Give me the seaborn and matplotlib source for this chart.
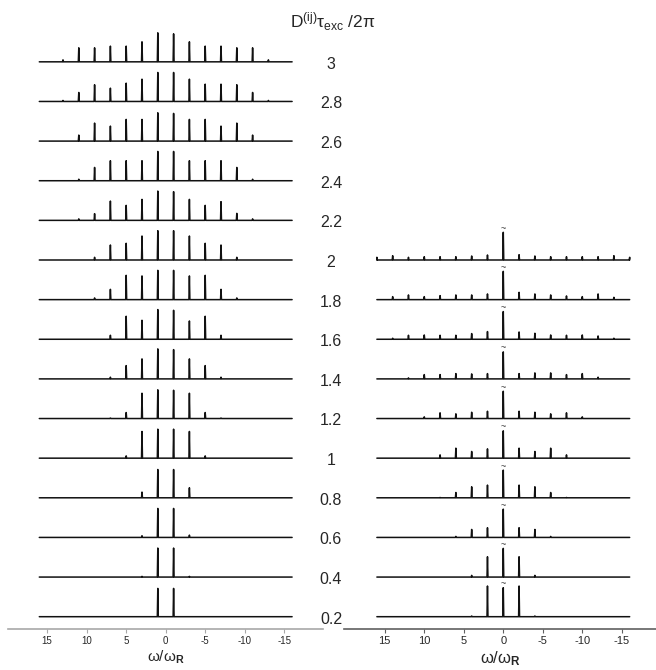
import numpy as np
import pandas as pd
import seaborn as sns
import matplotlib.pyplot as plt
from matplotlib.transforms import blended_transform_factory

# excitation values (one stacked trace each)
left_d = [3.0, 2.8, 2.6, 2.4, 2.2, 2.0, 1.8, 1.6, 1.4, 1.2, 1.0, 0.8, 0.6, 0.4, 0.2]
right_d = [2.0, 1.8, 1.6, 1.4, 1.2, 1.0, 0.8, 0.6, 0.4, 0.2]

# sideband orders (omega / omega_R)
left_orders = [13, 11, 9, 7, 5, 3, 1, -1, -3, -5, -7, -9, -11, -13]
right_orders = [16, 14, 12, 10, 8, 6, 4, 2, 0, -2, -4, -6, -8, -10, -12, -14, -16]

# sideband intensities (a.u., row spacing ~ 40)
left_heights = [
    [2, 14, 14, 15.7, 15.7, 20, 29, 28, 20, 15.7, 15.7, 14, 14, 2],
    [1, 9, 16.7, 13.3, 18.3, 22.3, 29, 29, 22.3, 17.3, 17.3, 16.7, 9, 1],
    [0, 6, 18, 15, 21.7, 21.7, 28.3, 27.7, 21.7, 21.7, 15, 18, 6, 0],
    [0, 1.5, 13.3, 20, 20, 20, 29.3, 29.3, 20, 20, 20, 13.3, 1.5, 0],
    [0, 1.5, 6.7, 19.3, 15, 21, 29.3, 28.7, 21, 15, 18.7, 7, 1.5, 0],
    [0, 0, 2.7, 15, 16.7, 24, 29.3, 29.3, 24, 16.7, 15, 2.7, 0, 0],
    [0, 0, 1.7, 10.3, 24.3, 23.7, 29.3, 29.3, 23.7, 24.3, 10.3, 1.7, 0, 0],
    [0, 0, 0, 4, 23, 19, 29.7, 29, 18.3, 23, 4, 0, 0, 0],
    [0, 0, 0, 1.7, 13.3, 20, 30, 29.3, 20, 13.3, 1.7, 0, 0, 0],
    [0, 0, 0, 0.5, 6, 25.3, 28.7, 28.3, 25.3, 6, 0.5, 0, 0, 0],
    [0, 0, 0, 0, 2.3, 26.7, 29, 29, 26.7, 2.3, 0, 0, 0, 0],
    [0, 0, 0, 0, 0, 5.7, 28.3, 28.3, 10, 0, 0, 0, 0, 0],
    [0, 0, 0, 0, 0, 1.7, 29, 29, 2.3, 0, 0, 0, 0, 0],
    [0, 0, 0, 0, 0, 0.7, 29, 29, 0.7, 0, 0, 0, 0, 0],
    [0, 0, 0, 0, 0, 0, 28.3, 28.3, 0, 0, 0, 0, 0, 0],
]

# centre band is cut off (marked with ~)
right_heights = [
    [2.7, 4.3, 2.7, 3.3, 3.3, 3.3, 4, 5, 27.7, 5.3, 4, 3.3, 3.3, 3.3, 3.3, 4.3, 2.7],
    [0, 3, 4.7, 3, 4, 4.7, 4.7, 5.7, 28.3, 7.3, 5.7, 4.7, 3.7, 3, 5.7, 2.3, 0],
    [0, 1, 4, 4.3, 4, 4, 5.7, 7.7, 27.7, 7.3, 6, 4.3, 4, 4.3, 3.3, 1, 0],
    [0, 0, 1, 4.3, 4.3, 5.3, 5, 5.3, 27, 5.3, 6, 6, 4.3, 5.3, 1.7, 0, 0],
    [0, 0, 0, 1.7, 5.7, 4.7, 6.3, 7.3, 27.3, 7.3, 6.3, 4.7, 5.7, 1.7, 0, 0, 0],
    [0, 0, 0, 0, 3.3, 10, 6.7, 9.3, 27.3, 10, 6.7, 10, 3.3, 0, 0, 0, 0],
    [0, 0, 0, 0, 0.3, 5.3, 11, 12.7, 27.7, 12.7, 11, 5.3, 0.3, 0, 0, 0, 0],
    [0, 0, 0, 0, 0, 1, 8, 9.7, 28.3, 9.7, 8, 1, 0, 0, 0, 0, 0],
    [0, 0, 0, 0, 0, 0, 1.7, 20.3, 28.7, 20.3, 1.7, 0, 0, 0, 0, 0, 0],
    [0, 0, 0, 0, 0, 0, 0.7, 30.7, 29, 30.7, 0.7, 0, 0, 0, 0, 0, 0],
]

x_ticks = [15, 10, 5, 0, -5, -10, -15]

ROW = 39.64      # row spacing in intensity units
HALF_W = 0.06    # half width of a sideband line
X_END = 16


def build_traces(d_values, orders, heights):
    recs = []
    for d, hs in zip(d_values, heights):
        base = round((d - 0.2) / 0.2)
        pts = [(X_END, base)]
        for o, h in zip(orders, hs):
            pts += [(o + HALF_W, base), (o, base + h / ROW), (o - HALF_W, base)]
        pts.append((-X_END, base))
        for x, y in pts:
            recs.append({'D': d, 'x': float(np.clip(x, -X_END, X_END)), 'y': y})
    return pd.DataFrame(recs)


sns.set_style('white')
plt.rcParams['font.family'] = ['Liberation Sans', 'DejaVu Sans']
plt.rcParams['mathtext.fontset'] = 'custom'
plt.rcParams['mathtext.rm'] = 'Liberation Sans'
plt.rcParams['mathtext.it'] = 'Liberation Sans:italic'
plt.rcParams['mathtext.bf'] = 'Liberation Sans:bold'
plt.rcParams['mathtext.default'] = 'regular'
plt.rcParams['axes.unicode_minus'] = False

W, H = 656, 670
fig = plt.figure(figsize=(W / 100, H / 100), dpi=100)

spine_y = 629.3
ylim = (-0.318, 15.56)
ax_l = fig.add_axes([8 / W, (H - spine_y) / H, 315 / W, spine_y / H])
ax_r = fig.add_axes([344 / W, (H - spine_y) / H, 312 / W, spine_y / H])

left_df = build_traces(left_d, left_orders, left_heights)
right_df = build_traces(right_d, right_orders, right_heights)

sns.lineplot(data=left_df, x='x', y='y', units='D', estimator=None, sort=False,
             color='#111111', lw=1.1, ax=ax_l, legend=False)
sns.lineplot(data=right_df, x='x', y='y', units='D', estimator=None, sort=False,
             color='#111111', lw=1.1, ax=ax_r, legend=False)

# break marks on the cut centre band
ci = right_orders.index(0)
for d, hs in zip(right_d, right_heights):
    base = round((d - 0.2) / 0.2)
    ax_r.text(0, base + hs[ci] / ROW - 0.02, '~', ha='center', va='bottom',
              fontsize=6.5, color='#333333')

ax_l.set_xlim(19.96, -19.91)
ax_r.set_xlim(20.16, -19.33)

for ax, col, lsize, xlsize in [(ax_l, '#a8a8a8', 7, 11), (ax_r, '#606060', 8, 12)]:
    ax.set_ylim(*ylim)
    ax.set_yticks([])
    ax.set_xticks(x_ticks)
    ax.set_xticklabels([str(t) for t in x_ticks])
    sns.despine(ax=ax, left=True, right=True, top=True)
    ax.spines['bottom'].set_color(col)
    ax.spines['bottom'].set_linewidth(1.2)
    ax.tick_params(axis='x', direction='out', length=3, width=0.8, color=col,
                   labelsize=lsize, pad=2, bottom=True)
    ax.set_xlabel(r'$\omega/\omega_\mathbf{R}$', fontsize=xlsize, labelpad=2)
    ax.set_ylabel('')
    ax.patch.set_alpha(0)

# D labels between the panels
trans = blended_transform_factory(fig.transFigure, ax_l.transData)
for d in left_d:
    base = round((d - 0.2) / 0.2)
    ax_l.text(331 / W, base - 0.06, f'{d:g}', transform=trans, ha='center',
              va='center', fontsize=11.5)

fig.text(333 / W, 1 - 22 / H, r'D$^{(ij)}\tau_{exc}$ /2$\pi$', ha='center',
         va='center', fontsize=12.5)

fig.savefig('out.png', dpi=100)
